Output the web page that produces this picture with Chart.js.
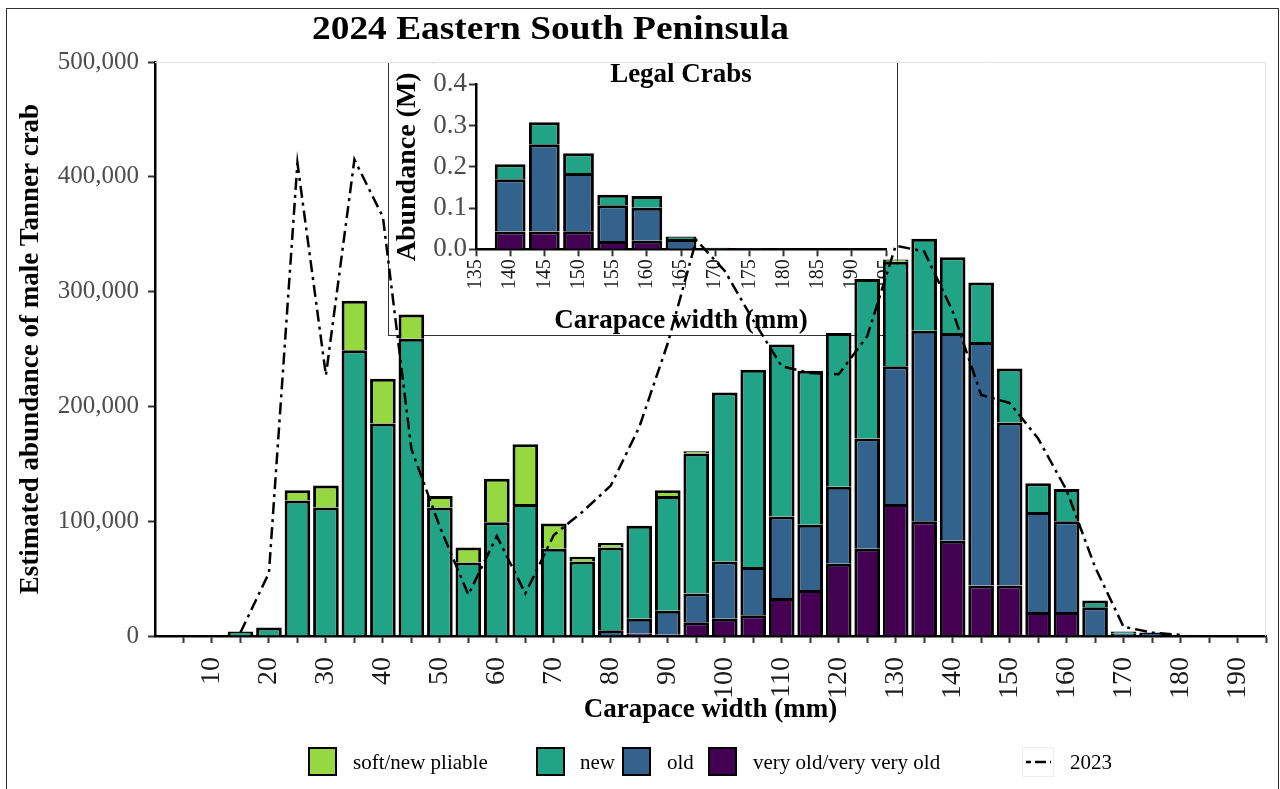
<!DOCTYPE html>
<html>
<head>
<meta charset="utf-8">
<script src="https://cdn.jsdelivr.net/npm/chart.js@4.4.1/dist/chart.umd.min.js"></script>
<style>
  body { margin:0; background:#fff; width:1280px; height:789px; overflow:hidden; position:relative; font-family:'Liberation Serif','Times New Roman',serif; }
  #frame { position:absolute; left:6px; top:8px; width:1271px; height:800px; border:1.5px solid #333; }
  #insetBox { position:absolute; left:388px; top:62px; width:508px; height:272px; border:1px solid #333; background:#fff; z-index:1; }
  #mainBox { position:absolute; left:0; top:0; z-index:2; }
  #title { position:absolute; left:312px; top:11px; font-size:34px; line-height:34px; font-weight:bold; transform:scaleX(1.1); transform-origin:left top; white-space:nowrap; z-index:3; }
  .key { position:absolute; top:747px; width:29px; height:29px; box-sizing:border-box; border:2.5px solid #000; z-index:3; }
  .lab { position:absolute; top:750px; font-size:21px; line-height:24px; white-space:nowrap; z-index:3; }
</style>
</head>
<body>
<div id="frame"></div>
<div id="insetBox"><canvas id="insetChart" width="508" height="272"></canvas></div>
<div id="mainBox"><canvas id="mainChart" width="1280" height="789"></canvas></div>
<div id="title">2024 Eastern South Peninsula</div>

<div class="key" style="left:308px;background:#95D840"></div><div class="lab" style="left:353px">soft/new pliable</div>
<div class="key" style="left:536px;background:#21A386"></div><div class="lab" style="left:580px">new</div>
<div class="key" style="left:622px;background:#33638D"></div><div class="lab" style="left:667px">old</div>
<div class="key" style="left:708px;background:#440154"></div><div class="lab" style="left:753px">very old/very very old</div>
<svg style="position:absolute;left:1022px;top:747px;z-index:3" width="32" height="30">
  <rect x="0.5" y="0.5" width="31" height="29" fill="#fff" stroke="#eee"/>
  <line x1="4" y1="15" x2="29" y2="15" stroke="#000" stroke-width="2.5" stroke-dasharray="5 4 11 4"/>
</svg>
<div class="lab" style="left:1070px">2023</div>

<script>
// carapace width bins (mm)
const sizes = [15,20,25,30,35,40,45,50,55,60,65,70,75,80,85,90,95,100,105,110,115,120,125,130,135,140,145,150,155,160,165,170,175,180];

// 2024 abundance by shell condition (number of crabs)
const veryOld = [0,0,0,0,0,0,0,0,0,0,0,0,0,0,2000,1000,12000,15000,18000,33000,40000,63000,76000,115000,100000,83000,44000,44000,21000,21000,0,0,0,0];
const oldShell = [0,0,0,0,0,0,0,0,0,0,0,0,0,5000,13000,21000,25000,50000,42000,71000,57000,67000,96000,120000,166000,181000,212000,142000,87000,79000,25000,2000,3000,1000];
const newShell = [4000,7500,118000,112000,249000,185000,259000,112000,64000,99000,115000,76000,65000,72000,81000,100000,122000,147000,172000,150000,134000,134000,139000,91000,80000,66000,52000,47000,25000,28000,6000,2000,0,0];
const softShell = [0,0,9000,19000,43000,39000,21000,10000,13000,38000,52000,22000,4000,4000,0,5000,2000,0,0,0,0,0,0,2000,0,0,0,0,0,0,0,0,0,0];

// 2023 total, dash-dot line
const total2023 = [3000,55000,412000,227000,415000,365000,163000,95000,36000,87000,37000,88000,108000,131000,182000,255000,345000,318000,275000,235000,229000,228000,261000,340000,335000,283000,210000,203000,172000,127000,60000,8000,3000,1000];

// inset: legal crabs (millions)
const legalSizes = [140,145,150,155,160,165,170,175,180];
const legalVeryOld = [0.043,0.043,0.044,0.020,0.021,0,0,0,0];
const legalOld = [0.127,0.212,0.141,0.087,0.080,0.025,0.002,0.003,0.001];
const legalNew = [0.036,0.053,0.048,0.025,0.028,0.006,0.002,0,0];

const COLORS = {
  soft: '#95D840',
  new: '#21A386',
  old: '#33638D',
  veryOld: '#440154'
};

Chart.defaults.font.family = "'Liberation Serif', 'Times New Roman', serif";
Chart.defaults.color = '#000';

function pts(xs, ys){ return xs.map((x,i)=>({x:x, y:ys[i]})); }

// bottom edge skipped so stacked segments share one outline
function barSet(label, xs, ys, color){
  return {
    type:'bar', label:label, data:pts(xs, ys),
    backgroundColor:color, borderColor:'#000', borderWidth:3, borderSkipped:'start',
    barPercentage:0.9, categoryPercentage:1.0, order:1
  };
}

// fixed axis box sizes, and no extra room for the rotated end labels
function fixX(h){ return function(s){ s.height = h; s.paddingLeft = 0; s.paddingRight = 0; }; }
function fixY(w){ return function(s){ s.width = w; s.paddingTop = 0; s.paddingBottom = 0; }; }

// light grey panel edge on top and right, like the original
const panelEdge = {
  id:'panelEdge',
  beforeDatasetsDraw(chart){
    const a = chart.chartArea, c = chart.ctx;
    c.save();
    c.strokeStyle = '#e3e3e3'; c.lineWidth = 1;
    c.beginPath();
    c.moveTo(a.left, a.top+0.5); c.lineTo(a.right-0.5, a.top+0.5); c.lineTo(a.right-0.5, a.bottom);
    c.stroke();
    c.restore();
  }
};

const mainChart = new Chart(document.getElementById('mainChart'), {
  data:{
    datasets:[
      barSet('very old/very very old', sizes, veryOld, COLORS.veryOld),
      barSet('old', sizes, oldShell, COLORS.old),
      barSet('new', sizes, newShell, COLORS.new),
      barSet('soft/new pliable', sizes, softShell, COLORS.soft),
      {
        type:'line', label:'2023', data:pts(sizes, total2023), stack:'y2023',
        borderColor:'#000', borderWidth:2.5, borderDash:[12,5,3,5],
        pointRadius:0, tension:0, fill:false, order:0
      }
    ]
  },
  options:{
    responsive:false, animation:false,
    layout:{ padding:{left:0, top:62, right:14, bottom:0}, autoPadding:false },
    plugins:{ legend:{display:false}, tooltip:{enabled:false} },
    scales:{
      x:{
        type:'linear', stacked:true, min:0, max:195, offset:false,
        afterFit:fixX(153),
        grid:{ offset:false, drawOnChartArea:false, tickLength:7, tickWidth:2,
               tickColor:(ctx)=> (ctx.tick && ctx.tick.value===0) ? 'rgba(0,0,0,0)' : '#333' },
        border:{ color:'#000', width:2.5 },
        ticks:{ stepSize:5, autoSkip:false, minRotation:90, maxRotation:90, padding:14,
                color:'#1a1a1a', font:{size:28},
                callback:(v)=> (v%10===0 && v>0) ? String(v) : '' },
        title:{ display:true, text:'Carapace width (mm)', color:'#000',
                font:{size:27, weight:'bold'}, padding:{top:0, bottom:63} }
      },
      y:{
        stacked:true, min:0, max:500000,
        afterFit:fixY(155),
        grid:{ drawOnChartArea:false, tickLength:7, tickWidth:2, tickColor:'#333' },
        border:{ color:'#000', width:2.5 },
        ticks:{ stepSize:100000, padding:9, color:'#4d4d4d', font:{size:25},
                callback:(v)=> v.toLocaleString('en-US') },
        title:{ display:true, text:'Estimated abundance of male Tanner crab', color:'#000',
                font:{size:27, weight:'bold'}, padding:{top:15, bottom:0} }
      }
    }
  },
  plugins:[panelEdge]
});

// inset chart sits underneath the main canvas
const insetChart = new Chart(document.getElementById('insetChart'), {
  data:{
    datasets:[
      barSet('very old/very very old', legalSizes, legalVeryOld, COLORS.veryOld),
      barSet('old', legalSizes, legalOld, COLORS.old),
      barSet('new', legalSizes, legalNew, COLORS.new)
    ]
  },
  options:{
    responsive:false, animation:false,
    layout:{ padding:{left:0, top:0, right:11, bottom:0}, autoPadding:false },
    plugins:{
      legend:{display:false}, tooltip:{enabled:false},
      title:{ display:true, text:'Legal Crabs', fullSize:false, color:'#000',
              font:{size:27, weight:'bold', lineHeight:0.68}, padding:{top:3, bottom:0} }
    },
    scales:{
      x:{
        type:'linear', stacked:true, min:135, max:195, offset:false,
        afterFit:fixX(85.7),
        grid:{ offset:false, drawOnChartArea:false, tickLength:7, tickWidth:2, tickColor:'#333' },
        border:{ color:'#000', width:2.5 },
        ticks:{ stepSize:5, autoSkip:false, minRotation:90, maxRotation:90, padding:3,
                color:'#1a1a1a', font:{size:20} },
        title:{ display:true, text:'Carapace width (mm)', color:'#000',
                font:{size:27, weight:'bold', lineHeight:1.0}, padding:{top:0, bottom:0} }
      },
      y:{
        stacked:true, min:0, max:0.4,
        afterFit:fixY(87),
        grid:{ drawOnChartArea:false, tickLength:7, tickWidth:2, tickColor:'#333' },
        border:{ color:'#000', width:2.5 },
        ticks:{ stepSize:0.1, padding:2, color:'#4d4d4d', font:{size:27},
                callback:(v)=> v.toFixed(1) },
        title:{ display:true, text:'Abundance (M)', color:'#000',
                font:{size:28, weight:'bold'}, padding:{top:2, bottom:0} }
      }
    }
  }
});
</script>
</body>
</html>
